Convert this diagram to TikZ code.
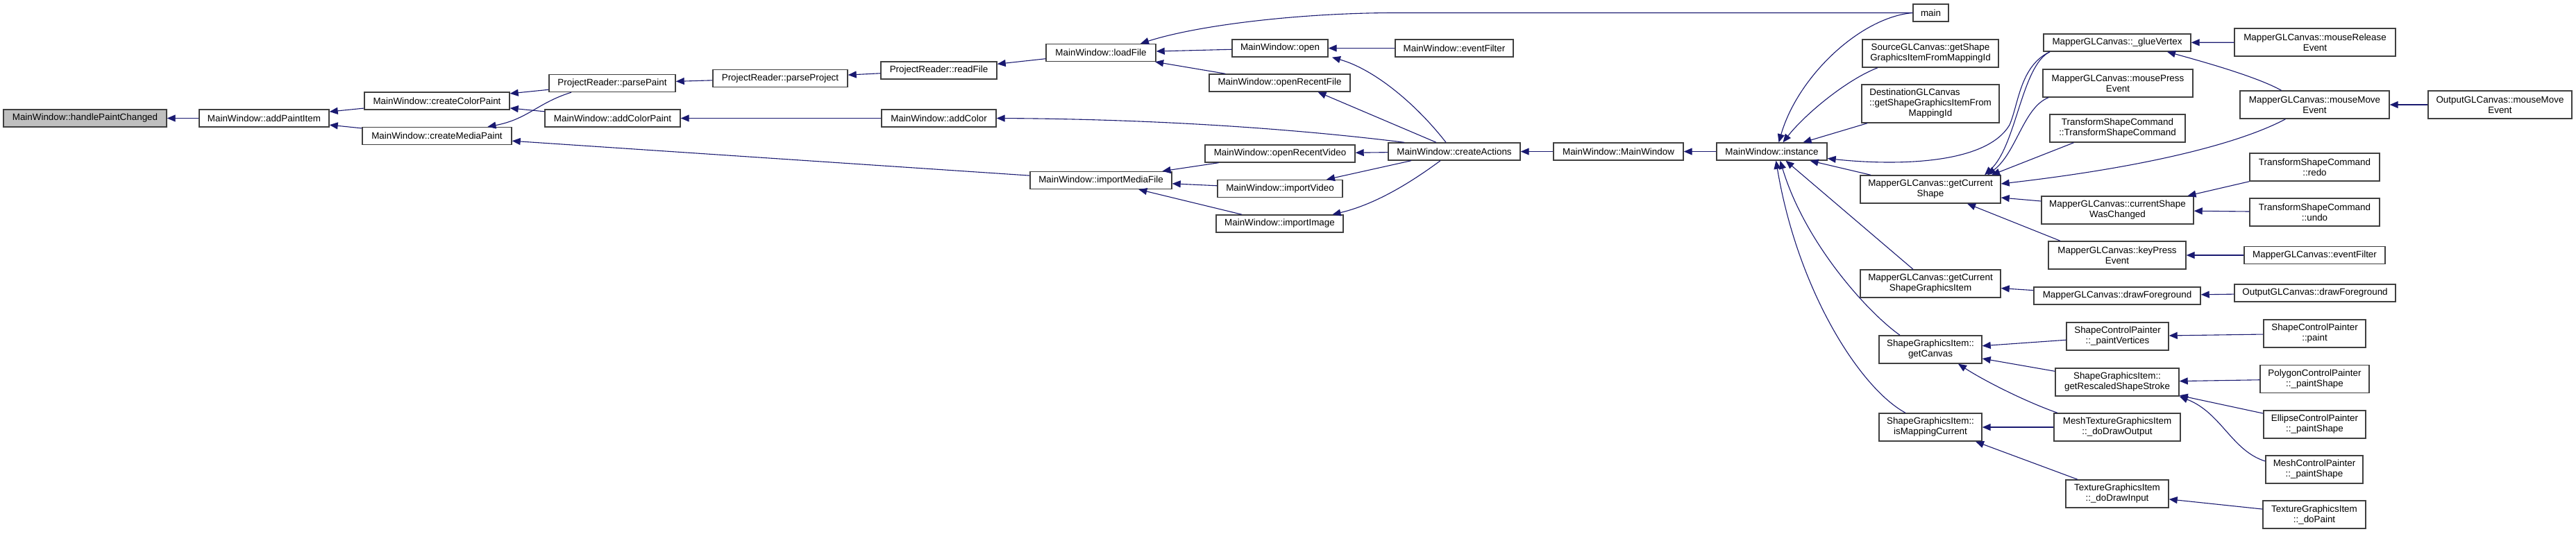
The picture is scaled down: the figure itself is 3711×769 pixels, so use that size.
\documentclass[tikz,border=0pt]{standalone}
\usepackage{fontspec}
\setmainfont{Liberation Sans}
\usetikzlibrary{
  arrows.meta
}
\definecolor{dgNavy}{HTML}{191970}
\definecolor{dgFrame}{HTML}{404040}
\definecolor{dgRoot}{HTML}{BFBFBF}
\tikzset{
  font=\fontsize{13.4}{15}\selectfont,
  fn/.style={
    draw=dgFrame,
    line width=1.4pt,
    fill=white,
    align=center,
    inner sep=0pt,
    minimum height=25pt,
    text=black
  },
  fntwo/.style={fn, minimum height=40pt},
  fnthree/.style={fn, minimum height=55pt},
  fnroot/.style={fn, fill=dgRoot},
  call/.style={-{Triangle[length=12pt,width=10pt]}, line width=1.1pt, draw=dgNavy}
}

\begin{document}
\begin{tikzpicture}[x=1pt,y=-1pt]

\useasboundingbox (0,0) rectangle (3711,769);

% --------------------------------------------------------------------------
% Paint handling
% --------------------------------------------------------------------------
\node[fnroot, minimum width=235pt] (hpc) at (122.5,170.5) {MainWindow::handlePaintChanged};
\node[fn, minimum width=187pt] (addPaintItem) at (380.5,170.5) {MainWindow::addPaintItem};
\node[fn, minimum width=209pt] (createColorPaint) at (629.5,145.5) {MainWindow::createColorPaint};
\node[fn, minimum width=215pt] (createMediaPaint) at (629.5,196) {MainWindow::createMediaPaint};
\node[fn, minimum width=182pt] (parsePaint) at (882,120) {ProjectReader::parsePaint};
\node[fn, minimum width=195pt] (addColorPaint) at (882.5,170.5) {MainWindow::addColorPaint};
\node[fn, minimum width=194pt] (parseProject) at (1124,113) {ProjectReader::parseProject};
\node[fn, minimum width=167pt] (readFile) at (1352.5,101.5) {ProjectReader::readFile};
\node[fn, minimum width=165pt] (addColor) at (1352.5,170.5) {MainWindow::addColor};
\node[fn, minimum width=158pt] (loadFile) at (1586,76) {MainWindow::loadFile};
\node[fn, minimum width=204pt] (importMediaFile) at (1586,260) {MainWindow::importMediaFile};

\draw[call] (addPaintItem) -- (hpc);
\draw[call] (createColorPaint) -- (addPaintItem);
\draw[call] (createMediaPaint) -- (addPaintItem);
\draw[call] (parsePaint) -- (createColorPaint);
\draw[call] (addColorPaint) -- (createColorPaint);
\draw[call] ([xshift=-59pt]parsePaint.south) .. controls (775,148) and (760,172) .. ([xshift=73pt]createMediaPaint.north);
\draw[call] (importMediaFile) -- (createMediaPaint);
\draw[call] (parseProject) -- (parsePaint);
\draw[call] (readFile) -- (parseProject);
\draw[call] (loadFile) -- (readFile);
\draw[call] (addColor) -- (addColorPaint);

% --------------------------------------------------------------------------
% Main window actions
% --------------------------------------------------------------------------
\node[fn, minimum width=138pt] (open) at (1844,69.5) {MainWindow::open};
\node[fn, minimum width=203pt] (openRecentFile) at (1843.5,119.5) {MainWindow::openRecentFile};
\node[fn, minimum width=216pt] (openRecentVideo) at (1844,221.5) {MainWindow::openRecentVideo};
\node[fn, minimum width=180pt] (importVideo) at (1844,272) {MainWindow::importVideo};
\node[fn, minimum width=183pt] (importImage) at (1843.5,322.5) {MainWindow::importImage};
\node[fn, minimum width=170pt] (eventFilter) at (2095,69.5) {MainWindow::eventFilter};
\node[fn, minimum width=190pt] (createActions) at (2095,218.5) {MainWindow::createActions};
\node[fn, minimum width=187pt] (ctor) at (2331.5,218.5) {MainWindow::MainWindow};
\node[fn, minimum width=159pt] (instance) at (2552.5,218.5) {MainWindow::instance};
\node[fn, minimum width=51pt] (main) at (2781.5,18.5) {main};

\draw[call] (main.west) -- (2010,18.5) .. controls (1880,18.5) and (1730,35) .. ([xshift=57pt]loadFile.north);
\draw[call] (open) -- (loadFile);
\draw[call] (openRecentFile) -- (loadFile);
\draw[call] (openRecentVideo) -- (importMediaFile);
\draw[call] (importVideo) -- (importMediaFile);
\draw[call] (importImage) -- (importMediaFile);
\draw[call] (eventFilter) -- (open);
\draw[call] ([xshift=-72pt]createActions.north) .. controls (1900,190) and (1700,172) .. (addColor.east);
\draw[call] ([xshift=-12pt]createActions.north) .. controls (2040,150) and (1980,100) .. ([xshift=75pt]open.south);
\draw[call] ([xshift=-26pt]createActions.north) -- ([xshift=55pt]openRecentFile.south);
\draw[call] (createActions) -- (openRecentVideo);
\draw[call] ([xshift=-62pt]createActions.south) -- ([xshift=67pt]importVideo.north);
\draw[call] ([xshift=-20pt]createActions.south) .. controls (2030,265) and (1980,295) .. ([xshift=76pt]importImage.north);
\draw[call] (ctor) -- (createActions);
\draw[call] (instance) -- (ctor);

% --------------------------------------------------------------------------
% Callers of MainWindow::instance
% --------------------------------------------------------------------------
\node[fntwo, minimum width=196pt] (srcItem) at (2781,77) {SourceGLCanvas::getShape\\GraphicsItemFromMappingId};
\node[fnthree, minimum width=198pt] (dstItem) at (2781,149.5) {DestinationGLCanvas\hspace*{45pt}\\::getShapeGraphicsItemFrom\\MappingId};
\node[fntwo, minimum width=202pt] (curShape) at (2781,273) {MapperGLCanvas::getCurrent\\Shape};
\node[fntwo, minimum width=202pt] (curItem) at (2781,409) {MapperGLCanvas::getCurrent\\ShapeGraphicsItem};
\node[fntwo, minimum width=148pt] (getCanvas) at (2781,504) {ShapeGraphicsItem::\\getCanvas};
\node[fntwo, minimum width=148pt] (isMapping) at (2781,616) {ShapeGraphicsItem::\\isMappingCurrent};

\draw[call] (main.west) .. controls (2680,25) and (2590,110) .. ([xshift=10pt]instance.north);
\draw[call] ([xshift=-76pt]srcItem.south) .. controls (2660,115) and (2600,165) .. ([xshift=16pt]instance.north);
\draw[call] ([xshift=-91pt]dstItem.south) -- ([xshift=45pt]instance.north);
\draw[call] ([xshift=-86pt]curShape.north) -- ([xshift=55pt]instance.south);
\draw[call] ([xshift=-25pt]curItem.north) -- ([xshift=20pt]instance.south);
\draw[call] ([xshift=-44pt]getCanvas.north) .. controls (2690,450) and (2600,350) .. ([xshift=12pt]instance.south);
\draw[call] ([xshift=-36pt]isMapping.north) .. controls (2680,560) and (2590,420) .. ([xshift=6pt]instance.south);

% --------------------------------------------------------------------------
% Mapper canvas and graphics items
% --------------------------------------------------------------------------
\node[fn, minimum width=212pt] (glueVertex) at (3050,61.5) {MapperGLCanvas::\_glueVertex};
\node[fntwo, minimum width=216pt] (mousePress) at (3051,120) {MapperGLCanvas::mousePress\\Event};
\node[fntwo, minimum width=195pt] (tsCtor) at (3050.5,185) {TransformShapeCommand\\::TransformShapeCommand};
\node[fntwo, minimum width=219pt] (shapeChanged) at (3050.5,303) {MapperGLCanvas::currentShape\\WasChanged};
\node[fntwo, minimum width=198pt] (keyPress) at (3050,368) {MapperGLCanvas::keyPress\\Event};
\node[fn, minimum width=240pt] (drawFg) at (3050,426.5) {MapperGLCanvas::drawForeground};
\node[fntwo, minimum width=147pt] (paintVertices) at (3050.5,485) {ShapeControlPainter\\::\_paintVertices};
\node[fntwo, minimum width=178pt] (rescaled) at (3050,551) {ShapeGraphicsItem::\\getRescaledShapeStroke};
\node[fntwo, minimum width=182pt] (drawOutput) at (3050,616) {MeshTextureGraphicsItem\\::\_doDrawOutput};
\node[fntwo, minimum width=148pt] (drawInput) at (3050,712) {TextureGraphicsItem\\::\_doDrawInput};

\draw[call] ([xshift=-97pt]glueVertex.south) .. controls (2910,95) and (2908,150) .. (2895,180)
  .. controls (2860,240) and (2720,238) .. ([yshift=-10pt]instance.east);
\draw[call] ([xshift=-97pt]glueVertex.south) .. controls (2912,95) and (2905,210) .. ([xshift=78pt]curShape.north);
\draw[call] ([xshift=-100pt]mousePress.south) .. controls (2915,155) and (2905,220) .. ([xshift=82pt]curShape.north);
\draw[call] ([xshift=-63pt]tsCtor.south) -- ([xshift=88pt]curShape.north);
\draw[call] ([yshift=13pt]shapeChanged.west) -- ([yshift=-12pt]curShape.east);
\draw[call] ([xshift=-82pt]keyPress.north) -- ([xshift=53pt]curShape.south);
\draw[call] (drawFg) -- (curItem);
\draw[call] (paintVertices) -- (getCanvas);
\draw[call] (rescaled) -- (getCanvas);
\draw[call] ([xshift=-86pt]drawOutput.north) .. controls (2920,580) and (2860,550) .. ([xshift=40pt]getCanvas.south);
\draw[call] (drawOutput) -- (isMapping);
\draw[call] ([xshift=-57pt]drawInput.north) -- ([xshift=65pt]isMapping.south);

% --------------------------------------------------------------------------
% Outer callers
% --------------------------------------------------------------------------
\node[fntwo, minimum width=232pt] (mouseRelease) at (3335,61) {MapperGLCanvas::mouseRelease\\Event};
\node[fntwo, minimum width=215pt] (mouseMove) at (3334.5,151) {MapperGLCanvas::mouseMove\\Event};
\node[fntwo, minimum width=207pt] (outMouseMove) at (3601.5,151) {OutputGLCanvas::mouseMove\\Event};
\node[fntwo, minimum width=187pt] (redo) at (3334.5,241) {TransformShapeCommand\\::redo};
\node[fntwo, minimum width=187pt] (undo) at (3334.5,306) {TransformShapeCommand\\::undo};
\node[fn, minimum width=203pt] (mapperFilter) at (3334.5,368) {MapperGLCanvas::eventFilter};
\node[fn, minimum width=232pt] (outDrawFg) at (3335,422.5) {OutputGLCanvas::drawForeground};
\node[fntwo, minimum width=147pt] (scpPaint) at (3334.5,481) {ShapeControlPainter\\::paint};
\node[fntwo, minimum width=157pt] (polyPaint) at (3334.5,546.5) {PolygonControlPainter\\::\_paintShape};
\node[fntwo, minimum width=147pt] (ellipsePaint) at (3334.5,612) {EllipseControlPainter\\::\_paintShape};
\node[fntwo, minimum width=140pt] (meshPaint) at (3334,677) {MeshControlPainter\\::\_paintShape};
\node[fntwo, minimum width=148pt] (doPaint) at (3334,742) {TextureGraphicsItem\\::\_doPaint};

\draw[call] (mouseRelease) -- (glueVertex);
\draw[call] ([xshift=-48pt]mouseMove.north) .. controls (3250,110) and (3170,88) .. ([xshift=72pt]glueVertex.south);
\draw[call] ([xshift=-42pt]mouseMove.south) .. controls (3230,205) and (3100,240) .. ([yshift=8pt]curShape.east);
\draw[call] (outMouseMove) -- (mouseMove);
\draw[call] (redo.south west) -- ([xshift=101pt]shapeChanged.north);
\draw[call] (undo) -- (shapeChanged);
\draw[call] (mapperFilter) -- (keyPress);
\draw[call] (outDrawFg) -- (drawFg);
\draw[call] (scpPaint) -- (paintVertices);
\draw[call] (polyPaint) -- (rescaled);
\draw[call] (ellipsePaint) -- (rescaled);
\draw[call] ([yshift=12pt]meshPaint.west) .. controls (3215,650) and (3200,595) .. (rescaled.south east);
\draw[call] (doPaint) -- (drawInput);

\end{tikzpicture}
\end{document}
